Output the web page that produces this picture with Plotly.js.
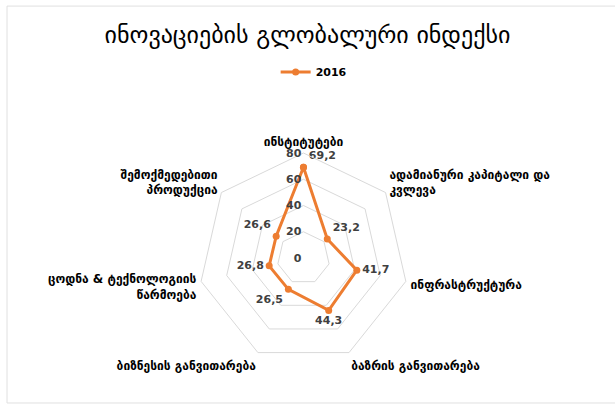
<!DOCTYPE html>
<html>
<head>
<meta charset="utf-8">
<script src="https://cdn.plot.ly/plotly-3.0.1.min.js"></script>
<style>html,body{margin:0;padding:0;background:#fff;}#chart{width:615px;height:405px;}</style>
</head>
<body>
<div id="chart"></div>
<script>
var categories = [
  "ინსტიტუტები",
  "ადამიანური კაპიტალი და<br>კვლევა",
  "ინფრასტრუქტურა",
  "ბაზრის განვითარება",
  "ბიზნესის განვითარება",
  "ცოდნა & ტექნოლოგიის<br>წარმოება",
  "შემოქმედებითი<br>პროდუქცია"
];
var values2016 = [69.2, 23.2, 41.7, 44.3, 26.5, 26.8, 26.6];
var seriesName = "2016";
var radialTicks = [0, 20, 40, 60, 80];

var labelText = values2016.map(function(v){ return v.toFixed(1).replace('.', ','); });
var labelPos = ["top right", "top right", "middle right", "bottom center", "bottom left", "middle left", "top left"];

var orange = "#ED7D31";
var fontFam = "DejaVu Sans, sans-serif";

var trace = {
  type: "scatterpolar",
  mode: "lines+markers+text",
  name: seriesName,
  r: values2016.concat([values2016[0]]),
  theta: categories.concat([categories[0]]),
  text: labelText.concat([""]),
  textposition: labelPos.concat(["top center"]),
  textfont: {family: fontFam, size: 11, color: "#404040", weight: "bold"},
  line: {color: orange, width: 3},
  marker: {color: orange, size: 7},
  cliponaxis: false
};

var layout = {
  width: 615, height: 405,
  margin: {l: 0, r: 0, t: 0, b: 0},
  paper_bgcolor: "#ffffff",
  font: {family: fontFam, color: "#000"},
  title: {
    text: "ინოვაციების გლობალური ინდექსი",
    font: {family: fontFam, size: 24, color: "#000"},
    x: 0.5, xanchor: "center", y: 0.915, yanchor: "middle"
  },
  showlegend: true,
  legend: {
    orientation: "h", x: 0.51, xanchor: "center", y: 0.822, yanchor: "middle",
    font: {family: fontFam, size: 11, color: "#000", weight: "bold"}
  },
  polar: {
    domain: {x: [0.3138, 0.6731], y: [0.1037, 0.6222]},
    gridshape: "linear",
    bgcolor: "rgba(0,0,0,0)",
    angularaxis: {
      rotation: 90, direction: "clockwise",
      showgrid: false, showline: true, linecolor: "#d9d9d9", linewidth: 1,
      ticks: "outside", ticklen: 2, tickcolor: "rgba(0,0,0,0)",
      tickfont: {family: fontFam, size: 12, color: "#000", weight: "bold"}
    },
    radialaxis: {
      range: [0, 80], tickvals: radialTicks, angle: 90,
      showline: false,
      gridcolor: "#d9d9d9", gridwidth: 1,
      ticks: "", tickangle: 90, side: "counterclockwise",
      tickfont: {family: fontFam, size: 11, color: "#404040", weight: "bold"}
    }
  },
  shapes: [{
    type: "rect", xref: "paper", yref: "paper",
    x0: 0.0114, x1: 1.01, y0: 0.005, y1: 0.985,
    line: {color: "#e0e0e0", width: 1}
  }]
};

Plotly.newPlot("chart", [trace], layout, {displayModeBar: false, staticPlot: true});
</script>
</body>
</html>
